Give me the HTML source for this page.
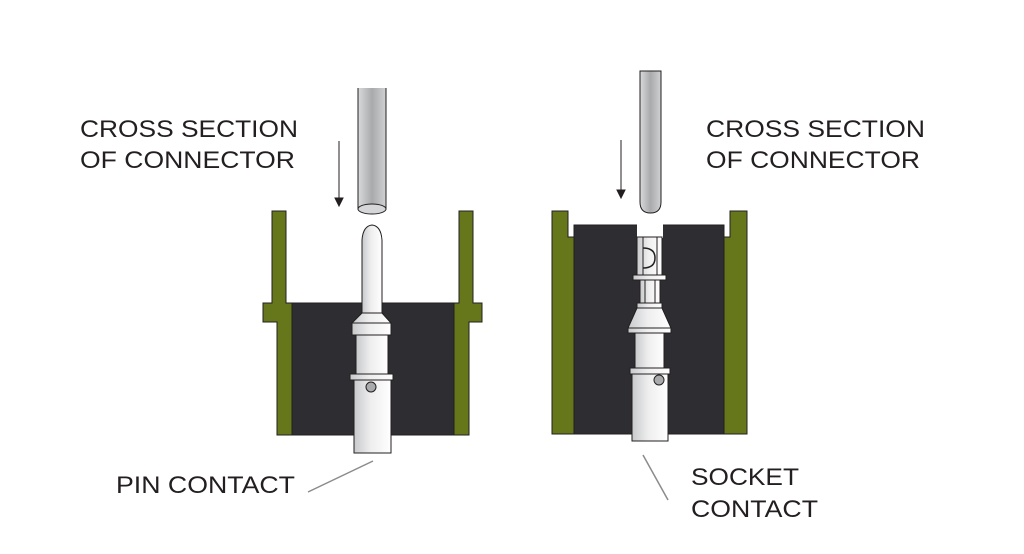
<!DOCTYPE html>
<html><head><style>
html,body{margin:0;padding:0;background:#fff;}
svg{display:block;}
text{font-family:"Liberation Sans",Arial,sans-serif;font-size:24px;fill:#231f20;}
</style></head><body>
<svg width="1024" height="554" viewBox="0 0 1024 554" xmlns="http://www.w3.org/2000/svg">
<defs>
<linearGradient id="m" x1="0" x2="1" y1="0" y2="0">
<stop offset="0" stop-color="#c8c9cb"/><stop offset="0.45" stop-color="#eeeeef"/><stop offset="1" stop-color="#ffffff"/>
</linearGradient>
<linearGradient id="t" x1="0" x2="1" y1="0" y2="0">
<stop offset="0" stop-color="#d9dadb"/><stop offset="0.5" stop-color="#a9aaac"/><stop offset="1" stop-color="#d0d1d2"/>
</linearGradient>
</defs>
<g stroke="#231f20" stroke-width="1">
<rect x="292" y="303" width="162" height="132" fill="#2e2d31"/>
<path d="M272 211 H286 V303 H292 V435 H277 V322 H263 V303 H272 Z" fill="#66771b"/>
<path d="M459 211 H473 V303 H482 V322 H469 V435 H454 V303 H459 Z" fill="#66771b"/>
<path d="M358 88 V209 H386 V88" fill="url(#t)"/>
<ellipse cx="372" cy="209" rx="14" ry="5" fill="#d5d6d7"/>
<line x1="339" y1="141" x2="339" y2="200"/>
<path d="M335 198 L339 206 L343 198 Z" fill="#231f20"/>
<path d="M362 313 V240 Q363 226 372 225 Q381 226 382 240 V313 Z" fill="url(#m)"/>
<path d="M362 313 H382 L391 323 H352 Z" fill="url(#m)"/>
<rect x="352" y="323" width="39" height="12" fill="url(#m)"/>
<rect x="356" y="335" width="32" height="39" fill="url(#m)"/>
<rect x="354" y="380" width="37" height="73" fill="url(#m)"/>
<rect x="350" y="374" width="43" height="6" fill="url(#m)"/>
<circle cx="371" cy="387" r="5" fill="#a9aaac"/>
<rect x="574" y="225" width="150" height="209" fill="#2e2d31"/>
<path d="M552 211 H568 V237 H574 V434 H552 Z" fill="#66771b"/>
<path d="M730 211 H747 V434 H724 V237 H730 Z" fill="#66771b"/>
<rect x="637" y="224" width="26" height="14" fill="#fff" stroke="none"/>
<path d="M640 71 V202 Q640 213 650.5 213 Q661 213 661 202 V71 Z" fill="url(#t)"/>
<line x1="621" y1="140" x2="621" y2="192"/>
<path d="M617 190 L621 198 L625 190 Z" fill="#231f20"/>
<rect x="637" y="237" width="25" height="38" fill="url(#m)"/>
<path d="M643 237 V275 M657 237 V275" />
<path d="M643 248 Q655 248 655 258 Q655 268 643 268" fill="none" stroke-width="1.5"/>
<rect x="633" y="275" width="33" height="5" fill="url(#m)"/>
<rect x="640" y="280" width="20" height="23" fill="url(#m)"/>
<path d="M645 280 V303 M655 280 V303"/>
<rect x="637" y="303" width="25" height="5" fill="url(#m)"/>
<path d="M637 308 H662 L671 328 H628 Z" fill="url(#m)"/>
<rect x="628" y="328" width="43" height="5" fill="url(#m)"/>
<rect x="635" y="333" width="29" height="35" fill="url(#m)"/>
<rect x="632" y="374" width="36" height="67" fill="url(#m)"/>
<rect x="630" y="368" width="40" height="6" fill="url(#m)"/>
<circle cx="659" cy="380" r="5" fill="#a9aaac"/>
</g>
<line x1="308" y1="492" x2="373" y2="461" stroke="#8a8b8d" stroke-width="1.5"/>
<line x1="643" y1="455" x2="668" y2="500" stroke="#8a8b8d" stroke-width="1.5"/>
<text x="80" y="137" textLength="218" lengthAdjust="spacingAndGlyphs">CROSS SECTION</text>
<text x="80" y="168" textLength="215" lengthAdjust="spacingAndGlyphs">OF CONNECTOR</text>
<text x="706" y="137" textLength="219" lengthAdjust="spacingAndGlyphs">CROSS SECTION</text>
<text x="706" y="168" textLength="214" lengthAdjust="spacingAndGlyphs">OF CONNECTOR</text>
<text x="116" y="493" textLength="179" lengthAdjust="spacingAndGlyphs">PIN CONTACT</text>
<text x="691" y="485" textLength="108" lengthAdjust="spacingAndGlyphs">SOCKET</text>
<text x="691" y="517" textLength="127" lengthAdjust="spacingAndGlyphs">CONTACT</text>
</svg>
</body></html>
